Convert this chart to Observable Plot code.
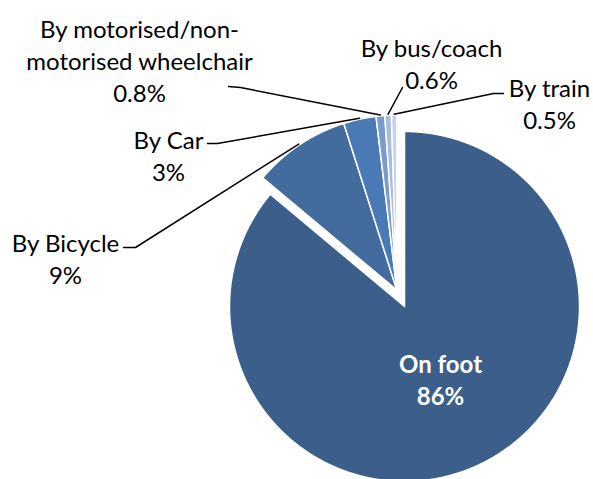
<!DOCTYPE html>
<html><head><meta charset="utf-8">
<script src="https://cdn.jsdelivr.net/npm/d3@7"></script>
<script src="https://cdn.jsdelivr.net/npm/@observablehq/plot@0.6"></script>
<style>body{margin:0;background:#fff}</style>
</head><body><div id="chart"></div>
<script>
const categories = ["On foot","By Bicycle","By Car","By motorised/non-motorised wheelchair","By bus/coach","By train"];
const labelNames = ["On foot","By Bicycle","By Car","By motorised/non-\nmotorised wheelchair","By bus/coach","By train"];
const shares = [86, 9, 3, 0.8, 0.6, 0.5];
const shareLabels = ["86%","9%","3%","0.8%","0.6%","0.5%"];
const colors = ["#3B5E8A","#426C9E","#4A7AB5","#7B9BCB","#A9BCDD","#C6D3EB"];

// layout (pixels)
const W = 593, H = 479;
const cx = 404, cy = 306, R = 175, explode = 18;
const labelPos = [[440,378],[65,257],[168,154],[139,59],[431,62],[549,102]];
const leaderPts = [null, [[123,247],[135,247]], [[207,143],[217,143]], [[228,86],[240,87]], [[402,87]], [[503,93],[493,93]]];

const arcs = d3.pie().sort(null).value(d => d)(shares);
const gA = (arcs[1].startAngle + arcs[arcs.length-1].endAngle) / 2;
const gOff = [explode*Math.sin(gA), -explode*Math.cos(gA)];

const slicePts = [];
arcs.forEach((a, i) => {
  const off = i === 0 ? [0,0] : gOff;
  const ox = cx + off[0], oy = cy + off[1];
  slicePts.push({name: categories[i], x: ox, y: oy});
  const n = Math.max(2, Math.ceil((a.endAngle - a.startAngle) / 0.005));
  for (let k = 0; k <= n; k++) {
    const t = a.startAngle + (a.endAngle - a.startAngle) * k / n;
    slicePts.push({name: categories[i], x: ox + R*Math.sin(t), y: oy - R*Math.cos(t)});
  }
});

const leaders = [];
arcs.forEach((a, i) => {
  if (i === 0) return;
  leaderPts[i].forEach(p => leaders.push({name: categories[i], x: p[0], y: p[1]}));
  const m = (a.startAngle + a.endAngle) / 2;
  leaders.push({name: categories[i], x: cx + gOff[0] + (R+1)*Math.sin(m), y: cy + gOff[1] - (R+1)*Math.cos(m)});
});

const labels = categories.map((c, i) => ({name: c, text: labelNames[i] + "\n" + shareLabels[i], x: labelPos[i][0], y: labelPos[i][1]}));

const chart = Plot.plot({
  width: W, height: H, margin: 0,
  x: {domain: [0, W], range: [0, W], axis: null},
  y: {domain: [0, H], range: [0, H], axis: null},
  color: {domain: categories, range: colors},
  style: {background: "#fff"},
  marks: [
    Plot.line(slicePts, {x: "x", y: "y", z: "name", fill: "name", stroke: "#fff", strokeWidth: 1.5, curve: "linear-closed"}),
    Plot.line(leaders, {x: "x", y: "y", z: "name", stroke: "#000", strokeWidth: 1.5}),
    Plot.text(labels.slice(1), {x: "x", y: "y", text: "text", fontSize: 24, lineHeight: 1.33, fill: "#000", fontFamily: "Lato"}),
    Plot.text(labels.slice(0,1), {x: "x", y: "y", text: "text", fontSize: 24, lineHeight: 1.33, fill: "#fff", fontWeight: "bold", fontFamily: "Lato"})
  ]
});
document.getElementById("chart").appendChild(chart);
</script>
</body></html>
